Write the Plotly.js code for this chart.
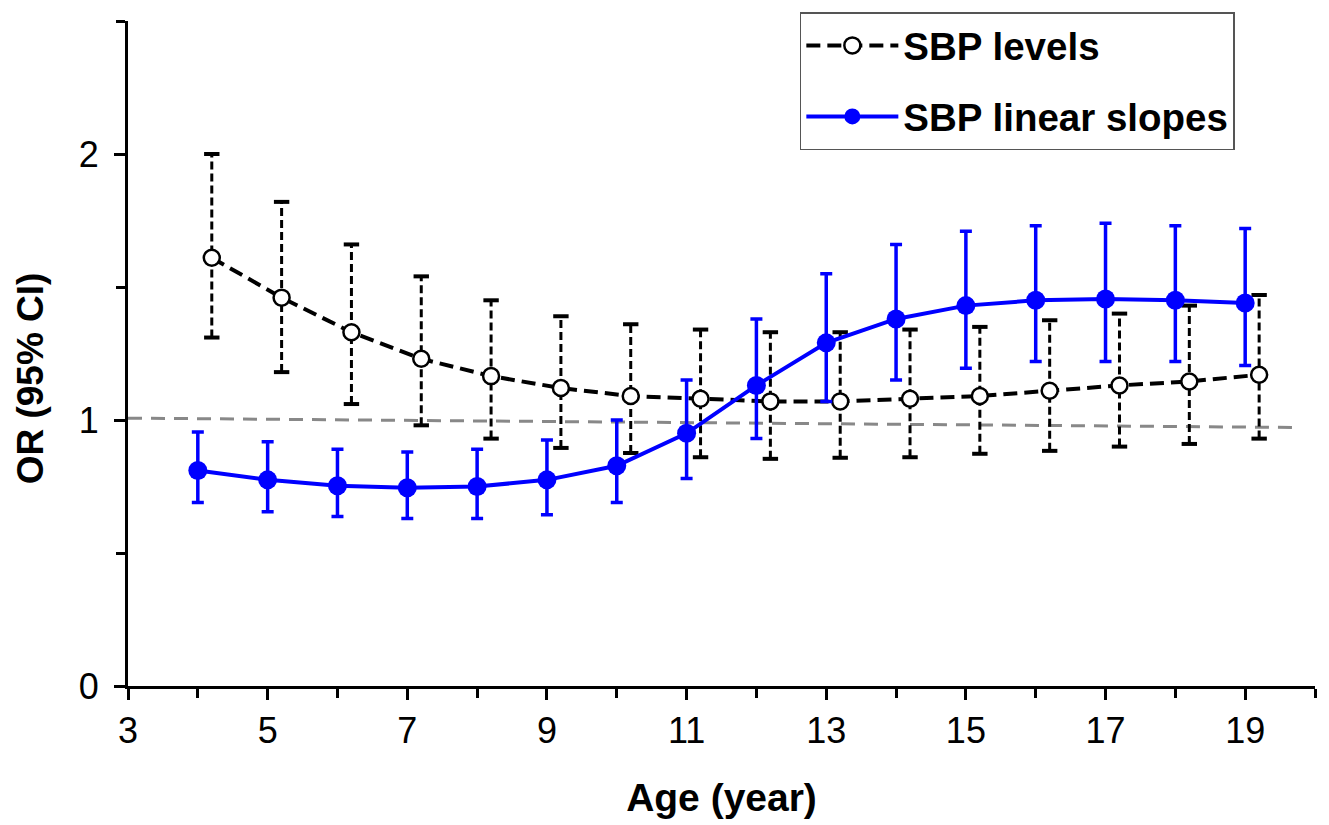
<!DOCTYPE html>
<html>
<head>
<meta charset="utf-8">
<script src="https://cdn.plot.ly/plotly-3.0.1.min.js"></script>
<style>html,body{margin:0;padding:0;background:#fff;}#chart{width:1329px;height:825px;}</style>
</head>
<body>
<div id="chart"></div>
<script>
// Data
const levelAge = [4.2, 5.2, 6.2, 7.2, 8.2, 9.2, 10.2, 11.2, 12.2, 13.2, 14.2, 15.2, 16.2, 17.2, 18.2, 19.2];
const levelOR  = [1.61, 1.46, 1.33, 1.23, 1.165, 1.12, 1.09, 1.08, 1.07, 1.07, 1.08, 1.09, 1.11, 1.13, 1.145, 1.17];
const levelHi  = [2.00, 1.82, 1.66, 1.54, 1.45, 1.39, 1.36, 1.34, 1.33, 1.33, 1.34, 1.35, 1.375, 1.40, 1.43, 1.47];
const levelLo  = [1.31, 1.18, 1.06, 0.98, 0.93, 0.895, 0.876, 0.86, 0.854, 0.858, 0.86, 0.873, 0.884, 0.90, 0.91, 0.93];

const slopeAge = [4, 5, 6, 7, 8, 9, 10, 11, 12, 13, 14, 15, 16, 17, 18, 19];
const slopeOR  = [0.81, 0.775, 0.753, 0.745, 0.75, 0.775, 0.828, 0.95, 1.13, 1.29, 1.38, 1.43, 1.45, 1.455, 1.45, 1.44];
const slopeHi  = [0.955, 0.918, 0.89, 0.88, 0.89, 0.925, 1.00, 1.15, 1.38, 1.55, 1.66, 1.71, 1.73, 1.74, 1.73, 1.72];
const slopeLo  = [0.69, 0.655, 0.637, 0.63, 0.63, 0.644, 0.69, 0.78, 0.93, 1.07, 1.15, 1.195, 1.22, 1.22, 1.22, 1.205];

const refAge = [3, 19.7];
const refOR  = [1.007, 0.972];

const xTickVals = [3, 5, 7, 9, 11, 13, 15, 17, 19];
const yTickVals = [0, 1, 2];

// Build dashed error-bar segments for the levels series
const segX = [], segY = [], capX = [], capY = [];
levelAge.forEach((a, i) => {
  segX.push(a, a, null);
  segY.push(levelLo[i], levelHi[i], null);
  capX.push(a, a);
  capY.push(levelLo[i], levelHi[i]);
});

const FONT = 'Liberation Sans, Arial, sans-serif';

const traces = [
  {x: refAge, y: refOR, mode: 'lines', line: {color: '#888888', width: 3, dash: '14px,9px'},
   showlegend: false, hoverinfo: 'skip'},
  {x: segX, y: segY, mode: 'lines', line: {color: '#000', width: 3, dash: '8px,4px'},
   showlegend: false, hoverinfo: 'skip', connectgaps: false},
  {x: capX, y: capY, mode: 'markers', marker: {symbol: 'line-ew', size: 11, line: {color: '#000', width: 4}},
   showlegend: false, hoverinfo: 'skip'},
  {x: levelAge, y: levelOR, name: 'SBP levels', legendgroup: 'a', mode: 'lines+markers',
   line: {color: '#000', width: 4, dash: '14px,7px'},
   marker: {symbol: 'circle', size: 16, color: '#fff', line: {color: '#000', width: 2.5}}},
  {x: slopeAge, y: slopeOR, name: 'SBP linear slopes', legendgroup: 'b', mode: 'lines+markers',
   line: {color: '#0000ff', width: 4},
   marker: {symbol: 'circle', size: 19, color: '#0000ff'},
   error_y: {type: 'data', symmetric: false,
     array: slopeHi.map((h, i) => h - slopeOR[i]),
     arrayminus: slopeOR.map((o, i) => o - slopeLo[i]),
     color: '#0000ff', thickness: 3.5, width: 6}}
];

const layout = {
  width: 1329, height: 825,
  margin: {l: 128, r: 14, t: 18, b: 139},
  paper_bgcolor: '#fff', plot_bgcolor: '#fff',
  font: {family: FONT, color: '#000'},
  showlegend: true,
  legend: {x: 0.566, y: 1.013, xanchor: 'left', yanchor: 'top',
    bgcolor: '#fff', bordercolor: '#555', borderwidth: 1.5,
    font: {family: FONT, size: 38.5, color: '#000', weight: 'bold'},
    itemwidth: 92, traceorder: 'grouped', tracegroupgap: 18},
  xaxis: {range: [3, 20], showgrid: false, zeroline: false, showline: true, linecolor: '#000', linewidth: 3,
    tickmode: 'array', tickvals: xTickVals, ticks: 'outside', ticklen: 11, tickwidth: 3, tickcolor: '#000',
    minor: {dtick: 1, tick0: 3, ticks: 'outside', ticklen: 9, tickwidth: 3, tickcolor: '#000', showgrid: false},
    tickfont: {family: FONT, size: 36, color: '#000'},
    title: {text: 'Age (year)', font: {family: FONT, size: 39, color: '#000', weight: 'bold'}, standoff: 34}},
  yaxis: {range: [0, 2.5], showgrid: false, zeroline: false, showline: true, linecolor: '#000', linewidth: 3,
    tickmode: 'array', tickvals: yTickVals, ticks: 'outside', ticklen: 11, tickwidth: 3, tickcolor: '#000',
    ticklabelstandoff: 8,
    minor: {tickvals: [0.5, 1.5, 2.5], ticks: 'outside', ticklen: 9, tickwidth: 3, tickcolor: '#000', showgrid: false},
    tickfont: {family: FONT, size: 36, color: '#000'}},
  annotations: [{text: 'OR (95% CI)', xref: 'paper', yref: 'paper', x: -0.0826, y: 0.4626,
    xanchor: 'center', yanchor: 'middle', textangle: -90, showarrow: false,
    font: {family: FONT, size: 37, color: '#000', weight: 'bold'}}]
};

Plotly.newPlot('chart', traces, layout, {displayModeBar: false, staticPlot: true});
</script>
</body>
</html>
